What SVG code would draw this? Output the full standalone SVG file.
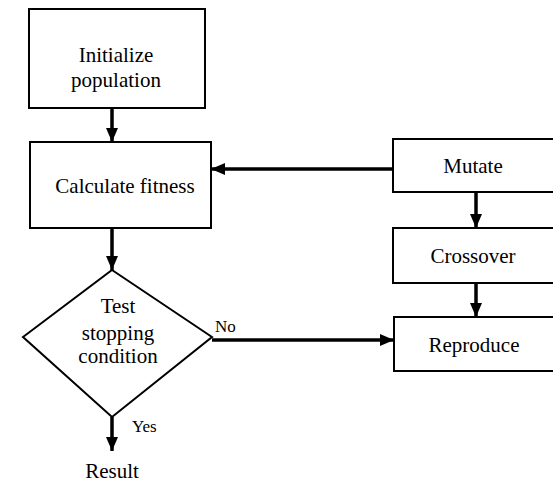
<svg xmlns="http://www.w3.org/2000/svg" width="553" height="484" viewBox="0 0 553 484">
<style>
.box{fill:#fff;stroke:#000;stroke-width:2}
.t{font-family:'Liberation Serif','Times New Roman','DejaVu Serif',serif;font-size:21px;fill:#000;text-anchor:middle}
.s{font-family:'Liberation Serif','Times New Roman','DejaVu Serif',serif;font-size:17px;fill:#000}
.c{stroke:#000;stroke-width:3.5;fill:none;marker-end:url(#ah)}
</style>
<defs>
<marker id="ah" markerUnits="userSpaceOnUse" markerWidth="14" markerHeight="14" viewBox="0 0 14 14" refX="14" refY="7" orient="auto">
<path d="M0,1 L14,7 L0,13 Z" fill="#000"/>
</marker>
</defs>
<rect width="553" height="484" fill="#fff"/>
<g id="init"><rect class="box" x="29" y="9" width="176" height="99"/><text class="t" x="116" y="62">Initialize</text><text class="t" x="116" y="87">population</text></g>
<g id="fitness"><rect class="box" x="30" y="142" width="181" height="86"/><text class="t" x="125" y="193">Calculate fitness</text></g>
<g id="test"><polygon class="box" points="112,270 212,337 112,417 23,337"/><text class="t" x="118" y="313">Test</text><text class="t" x="118" y="340">stopping</text><text class="t" x="118" y="363">condition</text></g>
<g id="mutate"><rect class="box" x="393" y="139" width="170" height="53"/><text class="t" x="473" y="173">Mutate</text></g>
<g id="crossover"><rect class="box" x="393" y="228" width="170" height="55"/><text class="t" x="473" y="263">Crossover</text></g>
<g id="reproduce"><rect class="box" x="394" y="317" width="170" height="54"/><text class="t" x="474" y="352">Reproduce</text></g>
<g id="result"><text class="t" x="112" y="478">Result</text></g>
<g id="connectors">
<line class="c" x1="112" y1="108" x2="112" y2="142"/>
<line class="c" x1="393" y1="169" x2="211" y2="169"/>
<line class="c" x1="112" y1="228" x2="112" y2="270"/>
<line class="c" x1="476" y1="192" x2="476" y2="228"/>
<line class="c" x1="476" y1="283" x2="476" y2="317"/>
<line class="c" x1="212" y1="340" x2="394" y2="340"/>
<line class="c" x1="112" y1="417" x2="112" y2="451"/>
<text class="s" x="215" y="332">No</text>
<text class="s" x="132" y="432">Yes</text>
</g>
</svg>
